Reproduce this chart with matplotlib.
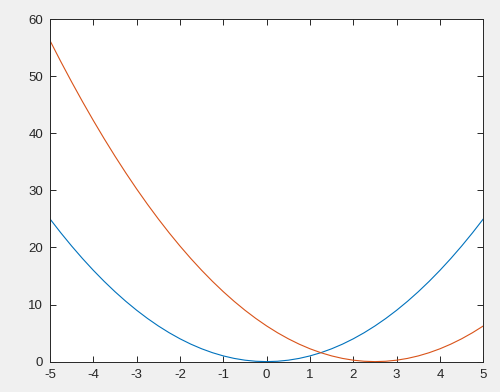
import matplotlib
matplotlib.use("Agg")
import matplotlib.pyplot as plt

x = [-5, -4.75, -4.5, -4.25, -4, -3.75, -3.5, -3.25, -3, -2.75, -2.5, -2.25, -2, -1.75, -1.5, -1.25, -1, -0.75, -0.5, -0.25,
     0, 0.25, 0.5, 0.75, 1, 1.25, 1.5, 1.75, 2, 2.25, 2.5, 2.75, 3, 3.25, 3.5, 3.75, 4, 4.25, 4.5, 4.75, 5]
y_blue = [25, 22.5625, 20.25, 18.0625, 16, 14.0625, 12.25, 10.5625, 9, 7.5625, 6.25, 5.0625, 4, 3.0625, 2.25, 1.5625, 1, 0.5625, 0.25, 0.0625,
          0, 0.0625, 0.25, 0.5625, 1, 1.5625, 2.25, 3.0625, 4, 5.0625, 6.25, 7.5625, 9, 10.5625, 12.25, 14.0625, 16, 18.0625, 20.25, 22.5625, 25]
y_red = [56.25, 52.5625, 49, 45.5625, 42.25, 39.0625, 36, 33.0625, 30.25, 27.5625, 25, 22.5625, 20.25, 18.0625, 16, 14.0625, 12.25, 10.5625, 9, 7.5625,
         6.25, 5.0625, 4, 3.0625, 2.25, 1.5625, 1, 0.5625, 0.25, 0.0625, 0, 0.0625, 0.25, 0.5625, 1, 1.5625, 2.25, 3.0625, 4, 5.0625, 6.25]
xticks = [-5, -4, -3, -2, -1, 0, 1, 2, 3, 4, 5]
yticks = [0, 10, 20, 30, 40, 50, 60]

plt.rcParams['font.family'] = ['Liberation Sans', 'DejaVu Sans']
fig = plt.figure(figsize=(5, 3.92), dpi=100, facecolor='#f0f0f0')
ax = fig.add_axes([0.1, 0.0775, 0.8666, 0.8735])
ax.plot(x, y_blue, color='#0072BD', lw=0.8)
ax.plot(x, y_red, color='#D95319', lw=0.8)
ax.set_xlim(-5, 5)
ax.set_ylim(0, 60)
ax.set_xticks(xticks)
ax.set_yticks(yticks)
ax.set_xticklabels([str(t) for t in xticks])
ax.set_yticklabels([str(t) for t in yticks])
ax.tick_params(direction='in', top=True, right=True, length=4, width=0.7,
               colors='#262626', labelsize=9.5, labelcolor='#262626', pad=5)
for s in ax.spines.values():
    s.set_color('#262626')
    s.set_linewidth(0.7)
fig.savefig('out.png', dpi=100, facecolor=fig.get_facecolor())
